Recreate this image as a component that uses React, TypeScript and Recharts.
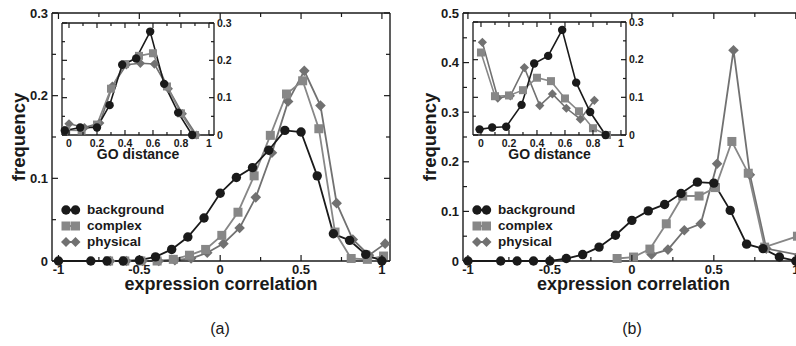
import React from 'react';
import { LineChart, Line, XAxis, YAxis, Legend, Label } from 'recharts';

const FONT = '"Liberation Sans", Arial, Helvetica, sans-serif';
const INK = '#1a1a1a';
const BG = '#1a1a1a';
const CX = '#878787';
const PH = '#717171';

// ---- panel (a), main: expression correlation
const bgXA = [-1, -0.8, -0.7, -0.6, -0.5, -0.4, -0.3, -0.2, -0.1, 0, 0.1, 0.2, 0.3, 0.4, 0.5, 0.6, 0.7, 0.8, 0.9, 1.0];
const bgYA = [0, 0, 0, 0, 0.001, 0.005, 0.014, 0.029, 0.052, 0.082, 0.101, 0.113, 0.134, 0.158, 0.156, 0.103, 0.033, 0.025, 0.008, 0];
const cxXA = [-0.69, -0.59, -0.49, -0.39, -0.29, -0.19, -0.09, 0.01, 0.11, 0.21, 0.31, 0.41, 0.51, 0.61, 0.71, 0.81, 0.91, 1.01];
const cxYA = [0, 0, 0, 0, 0.002, 0.007, 0.014, 0.031, 0.059, 0.103, 0.152, 0.202, 0.218, 0.16, 0.035, 0.003, 0.002, 0.006];
const phXA = [-0.68, -0.58, -0.48, -0.38, -0.28, -0.18, -0.08, 0.02, 0.12, 0.22, 0.32, 0.42, 0.52, 0.62, 0.72, 0.82, 0.92, 1.02];
const phYA = [0, 0, 0, 0, 0.001, 0.003, 0.01, 0.021, 0.04, 0.077, 0.131, 0.193, 0.23, 0.188, 0.07, 0.026, 0.007, 0.021];

// ---- panel (b), main
const bgXB = [-1, -0.8, -0.7, -0.6, -0.5, -0.4, -0.3, -0.2, -0.1, 0, 0.1, 0.2, 0.3, 0.4, 0.5, 0.6, 0.7, 0.8, 0.9, 1.0];
const bgYB = [0, 0, 0, 0, 0, 0.005, 0.013, 0.028, 0.052, 0.082, 0.101, 0.114, 0.136, 0.159, 0.157, 0.102, 0.034, 0.025, 0.008, 0];
const cxXB = [-0.09, 0.01, 0.11, 0.21, 0.31, 0.41, 0.51, 0.61, 0.71, 0.81, 1.01];
const cxYB = [0.005, 0.008, 0.024, 0.075, 0.131, 0.131, 0.148, 0.241, 0.177, 0.028, 0.05];
const phXB = [0.12, 0.22, 0.32, 0.42, 0.52, 0.62, 0.72, 0.82, 1.02];
const phYB = [0.013, 0.023, 0.062, 0.075, 0.196, 0.425, 0.174, 0.025, 0.012];

// ---- insets: GO distance
const bgXIA = [-0.03, 0.08, 0.2, 0.29, 0.38, 0.48, 0.58, 0.68, 0.78, 0.88];
const bgYIA = [0.012, 0.02, 0.02, 0.08, 0.188, 0.205, 0.277, 0.137, 0.06, 0];
const cxXIA = [-0.02, 0.09, 0.2, 0.3, 0.4, 0.5, 0.6, 0.7, 0.8, 0.9];
const cxYIA = [0.013, 0.012, 0.028, 0.124, 0.19, 0.212, 0.219, 0.13, 0.058, 0];
const phXIA = [0.0, 0.11, 0.22, 0.31, 0.41, 0.51, 0.61, 0.71, 0.81, 0.91];
const phYIA = [0.03, 0.02, 0.032, 0.131, 0.188, 0.192, 0.19, 0.124, 0.057, 0];

const bgXIB = [-0.01, 0.08, 0.18, 0.29, 0.38, 0.48, 0.58, 0.68, 0.78, 0.89];
const bgYIB = [0.015, 0.02, 0.022, 0.08, 0.19, 0.21, 0.279, 0.139, 0.061, 0];
const cxXIB = [0.0, 0.1, 0.2, 0.3, 0.4, 0.5, 0.6, 0.7, 0.8, 0.9];
const cxYIB = [0.219, 0.103, 0.105, 0.119, 0.152, 0.143, 0.097, 0.063, 0.018, 0];
const phXIB = [0.01, 0.12, 0.21, 0.31, 0.42, 0.51, 0.61, 0.71, 0.81];
const phYIB = [0.246, 0.098, 0.104, 0.179, 0.078, 0.109, 0.071, 0.042, 0.092];

// ticks
const mainXTicks = [-1, -0.75, -0.5, -0.25, 0, 0.25, 0.5, 0.75, 1];
const yTicksA = [0, 0.05, 0.1, 0.15, 0.2, 0.25, 0.3];
const yTicksB = [0, 0.05, 0.1, 0.15, 0.2, 0.25, 0.3, 0.35, 0.4, 0.45, 0.5];
const insetXTicks = [0, 0.1, 0.2, 0.3, 0.4, 0.5, 0.6, 0.7, 0.8, 0.9, 1];
const insetYTicks = [0, 0.05, 0.1, 0.15, 0.2, 0.25, 0.3];

const legendNames = ['background', 'complex', 'physical'];

const zip = (xs: number[], ys: number[]) => xs.map((x, i) => ({ x, y: ys[i] }));
const fmt = (v: number) => String(+v.toFixed(2));

type TickCfg = { side: string; step: number; len: number; minor: number; font: number; labels: boolean; gap: number };

function renderTick(p: any, c: TickCfg) {
  const v = p.payload.value;
  const major = Math.abs(v / c.step - Math.round(v / c.step)) < 1e-6;
  const l = major ? c.len : c.minor;
  const { x, y } = p;
  let x2 = x, y2 = y, tx = x, ty = y;
  let anchor = 'middle';
  let dy: string | number = 0;
  if (c.side === 'bottom') { y2 = y - l; ty = y + c.gap; }
  else if (c.side === 'top') { y2 = y + l; }
  else if (c.side === 'left') { x2 = x + l; tx = x - c.gap; anchor = 'end'; dy = '0.36em'; }
  else { x2 = x - l; tx = x + c.gap; anchor = 'start'; dy = '0.36em'; }
  return (
    <g key={`${c.side}-${v}`}>
      <line x1={x} y1={y} x2={x2} y2={y2} stroke={INK} strokeWidth={1.2} />
      {major && c.labels && (
        <text x={tx} y={ty} dy={dy} textAnchor={anchor} fontFamily={FONT} fontWeight="bold" fontSize={c.font} fill={INK}>
          {fmt(v)}
        </text>
      )}
    </g>
  );
}

const circleDot = (r: number, color: string) => (p: any) => (
  <circle key={`c${p.index}`} cx={p.cx} cy={p.cy} r={r} fill={color} stroke="none" />
);
const squareDot = (s: number, color: string) => (p: any) => (
  <rect key={`s${p.index}`} x={p.cx - s / 2} y={p.cy - s / 2} width={s} height={s} fill={color} />
);
const diamondDot = (h: number, color: string) => (p: any) => (
  <polygon
    key={`d${p.index}`}
    points={`${p.cx},${p.cy - h} ${p.cx + h},${p.cy} ${p.cx},${p.cy + h} ${p.cx - h},${p.cy}`}
    fill={color}
  />
);

function LegendBox() {
  const colors = [BG, CX, PH];
  return (
    <div style={{ fontFamily: FONT, fontWeight: 'bold', fontSize: 13.5, color: INK }}>
      {legendNames.map((n, i) => (
        <div key={n} style={{ display: 'flex', alignItems: 'center', height: 16 }}>
          <svg width={24} height={12} style={{ display: 'block' }}>
            <line x1={5} y1={6} x2={14.5} y2={6} stroke={colors[i]} strokeWidth={2} />
            {i === 0 && <><circle cx={5} cy={6} r={4.7} fill={BG} /><circle cx={14.5} cy={6} r={4.7} fill={BG} /></>}
            {i === 1 && <><rect x={0.5} y={1.5} width={9} height={9} fill={CX} /><rect x={10} y={1.5} width={9} height={9} fill={CX} /></>}
            {i === 2 && (
              <>
                <polygon points="5,1 10,6 5,11 0,6" fill={PH} />
                <polygon points="14.5,1 19.5,6 14.5,11 9.5,6" fill={PH} />
              </>
            )}
          </svg>
          <span style={{ marginLeft: 2, lineHeight: '16px' }}>{n}</span>
        </div>
      ))}
    </div>
  );
}

type PanelProps = {
  left: number;
  width: number;
  xDomain: number[];
  yDomain: number[];
  yTicks: number[];
  bg: { x: number; y: number }[];
  cx: { x: number; y: number }[];
  ph: { x: number; y: number }[];
};

function MainPanel({ left, width, xDomain, yDomain, yTicks, bg, cx, ph }: PanelProps) {
  const axisLine = { stroke: INK, strokeWidth: 1.4 };
  return (
    <div style={{ position: 'absolute', left, top: 0 }}>
      <LineChart width={width} height={300} margin={{ top: 12, right: 9, bottom: 9, left: 12 }}>
        <XAxis
          type="number" dataKey="x" domain={xDomain} ticks={mainXTicks} interval={0}
          height={30} tickSize={0} tickMargin={0} tickLine={false} axisLine={axisLine}
          tick={(p: any) => renderTick(p, { side: 'bottom', step: 0.5, len: 6, minor: 4, font: 13, labels: true, gap: 13 })}
        >
          <Label
            content={(p: any) => (
              <text x={p.viewBox.x + p.viewBox.width / 2} y={p.viewBox.y + 28.5} textAnchor="middle"
                fontFamily={FONT} fontWeight="bold" fontSize={18} fill={INK}>
                expression correlation
              </text>
            )}
          />
        </XAxis>
        <XAxis
          xAxisId="top" orientation="top" type="number" dataKey="x" domain={xDomain} ticks={mainXTicks} interval={0}
          height={1} tickSize={0} tickMargin={0} tickLine={false} axisLine={axisLine}
          tick={(p: any) => renderTick(p, { side: 'top', step: 0.5, len: 6, minor: 4, font: 13, labels: false, gap: 0 })}
        />
        <YAxis
          type="number" domain={yDomain} ticks={yTicks} interval={0}
          width={40} tickSize={0} tickMargin={0} tickLine={false} axisLine={axisLine}
          tick={(p: any) => renderTick(p, { side: 'left', step: 0.1, len: 6, minor: 4, font: 13, labels: true, gap: 4 })}
        >
          <Label
            content={(p: any) => {
              const bx = p.viewBox.x + p.viewBox.width - 27;
              const by = p.viewBox.y + p.viewBox.height / 2;
              return (
                <text x={bx} y={by} transform={`rotate(-90 ${bx} ${by})`} textAnchor="middle"
                  fontFamily={FONT} fontWeight="bold" fontSize={18.5} fill={INK}>
                  frequency
                </text>
              );
            }}
          />
        </YAxis>
        <YAxis
          yAxisId="right" orientation="right" type="number" domain={yDomain} ticks={yTicks} interval={0}
          width={1} tickSize={0} tickMargin={0} tickLine={false} axisLine={axisLine}
          tick={(p: any) => renderTick(p, { side: 'right', step: 0.1, len: 6, minor: 4, font: 13, labels: false, gap: 0 })}
        />
        <Line data={bg} xAxisId="top" yAxisId="right" dataKey="y" stroke="none" dot={false} activeDot={false} legendType="none" isAnimationActive={false} />
        <Line data={ph} dataKey="y" name="physical" stroke={PH} strokeWidth={1.8} dot={diamondDot(5.3, PH)} activeDot={false} isAnimationActive={false} />
        <Line data={cx} dataKey="y" name="complex" stroke={CX} strokeWidth={1.8} dot={squareDot(9, CX)} activeDot={false} isAnimationActive={false} />
        <Line data={bg} dataKey="y" name="background" stroke={BG} strokeWidth={1.8} dot={circleDot(4.7, BG)} activeDot={false} isAnimationActive={false} />
        <Legend layout="vertical" align="center" verticalAlign="middle" wrapperStyle={{ left: 61, top: 202, width: 'auto' }} content={() => <LegendBox />} />
      </LineChart>
    </div>
  );
}

type InsetProps = {
  left: number;
  top: number;
  right: number;
  xDomain: number[];
  bg: { x: number; y: number }[];
  cx: { x: number; y: number }[];
  ph: { x: number; y: number }[];
};

function Inset({ left, top, right, xDomain, bg, cx, ph }: InsetProps) {
  const axisLine = { stroke: INK, strokeWidth: 1.3 };
  return (
    <div style={{ position: 'absolute', left, top: 10 }}>
      <LineChart width={200} height={160} margin={{ top, right, bottom: 5, left: 11 }}>
        <XAxis
          type="number" dataKey="x" domain={xDomain} ticks={insetXTicks} interval={0}
          height={30} tickSize={0} tickMargin={0} tickLine={false} axisLine={axisLine}
          tick={(p: any) => renderTick(p, { side: 'bottom', step: 0.2, len: 5, minor: 3, font: 10.5, labels: true, gap: 12 })}
        >
          <Label
            content={(p: any) => (
              <text x={p.viewBox.x + p.viewBox.width / 2} y={p.viewBox.y + 24} textAnchor="middle"
                fontFamily={FONT} fontWeight="bold" fontSize={14} fill={INK}>
                GO distance
              </text>
            )}
          />
        </XAxis>
        <XAxis
          xAxisId="top" orientation="top" type="number" dataKey="x" domain={xDomain} ticks={insetXTicks} interval={0}
          height={1} tickSize={0} tickMargin={0} tickLine={false} axisLine={axisLine}
          tick={(p: any) => renderTick(p, { side: 'top', step: 0.2, len: 5, minor: 3, font: 10.5, labels: false, gap: 0 })}
        />
        <YAxis
          type="number" domain={[0, 0.3]} ticks={insetYTicks} interval={0}
          width={1} tickSize={0} tickMargin={0} tickLine={false} axisLine={axisLine}
          tick={(p: any) => renderTick(p, { side: 'left', step: 0.1, len: 5, minor: 3, font: 10.5, labels: false, gap: 0 })}
        />
        <YAxis
          yAxisId="right" orientation="right" type="number" domain={[0, 0.3]} ticks={insetYTicks} interval={0}
          width={30} tickSize={0} tickMargin={0} tickLine={false} axisLine={axisLine}
          tick={(p: any) => renderTick(p, { side: 'right', step: 0.1, len: 5, minor: 3, font: 10.5, labels: true, gap: 3 })}
        />
        <Line data={bg} xAxisId="top" yAxisId="right" dataKey="y" stroke="none" dot={false} activeDot={false} legendType="none" isAnimationActive={false} />
        <Line data={ph} dataKey="y" name="physical" stroke={PH} strokeWidth={1.6} dot={diamondDot(4.6, PH)} activeDot={false} isAnimationActive={false} />
        <Line data={cx} dataKey="y" name="complex" stroke={CX} strokeWidth={1.6} dot={squareDot(8, CX)} activeDot={false} isAnimationActive={false} />
        <Line data={bg} dataKey="y" name="background" stroke={BG} strokeWidth={1.6} dot={circleDot(4.2, BG)} activeDot={false} isAnimationActive={false} />
      </LineChart>
    </div>
  );
}

export default function App() {
  const cap: React.CSSProperties = { position: 'absolute', top: 320, fontFamily: FONT, fontSize: 16, color: INK, width: 40, textAlign: 'center' };
  return (
    <div style={{ position: 'fixed', left: 0, top: 0, width: 796, height: 346, overflow: 'hidden', background: '#fff' }}>
      <MainPanel left={0} width={400} xDomain={[-1.04, 1.05]} yDomain={[0, 0.3]} yTicks={yTicksA}
        bg={zip(bgXA, bgYA)} cx={zip(cxXA, cxYA)} ph={zip(phXA, phYA)} />
      <Inset left={50} top={12} right={6} xDomain={[-0.05, 1.036]}
        bg={zip(bgXIA, bgYIA)} cx={zip(cxXIA, cxYIA)} ph={zip(phXIA, phYIA)} />
      <MainPanel left={411} width={403} xDomain={[-1.03, 1.05]} yDomain={[0, 0.5]} yTicks={yTicksB}
        bg={zip(bgXB, bgYB)} cx={zip(cxXB, cxYB)} ph={zip(phXB, phYB)} />
      <Inset left={461} top={11} right={5} xDomain={[-0.057, 1.036]}
        bg={zip(bgXIB, bgYIB)} cx={zip(cxXIB, cxYIB)} ph={zip(phXIB, phYIB)} />
      <div style={{ ...cap, left: 200 }}>(a)</div>
      <div style={{ ...cap, left: 612 }}>(b)</div>
    </div>
  );
}
